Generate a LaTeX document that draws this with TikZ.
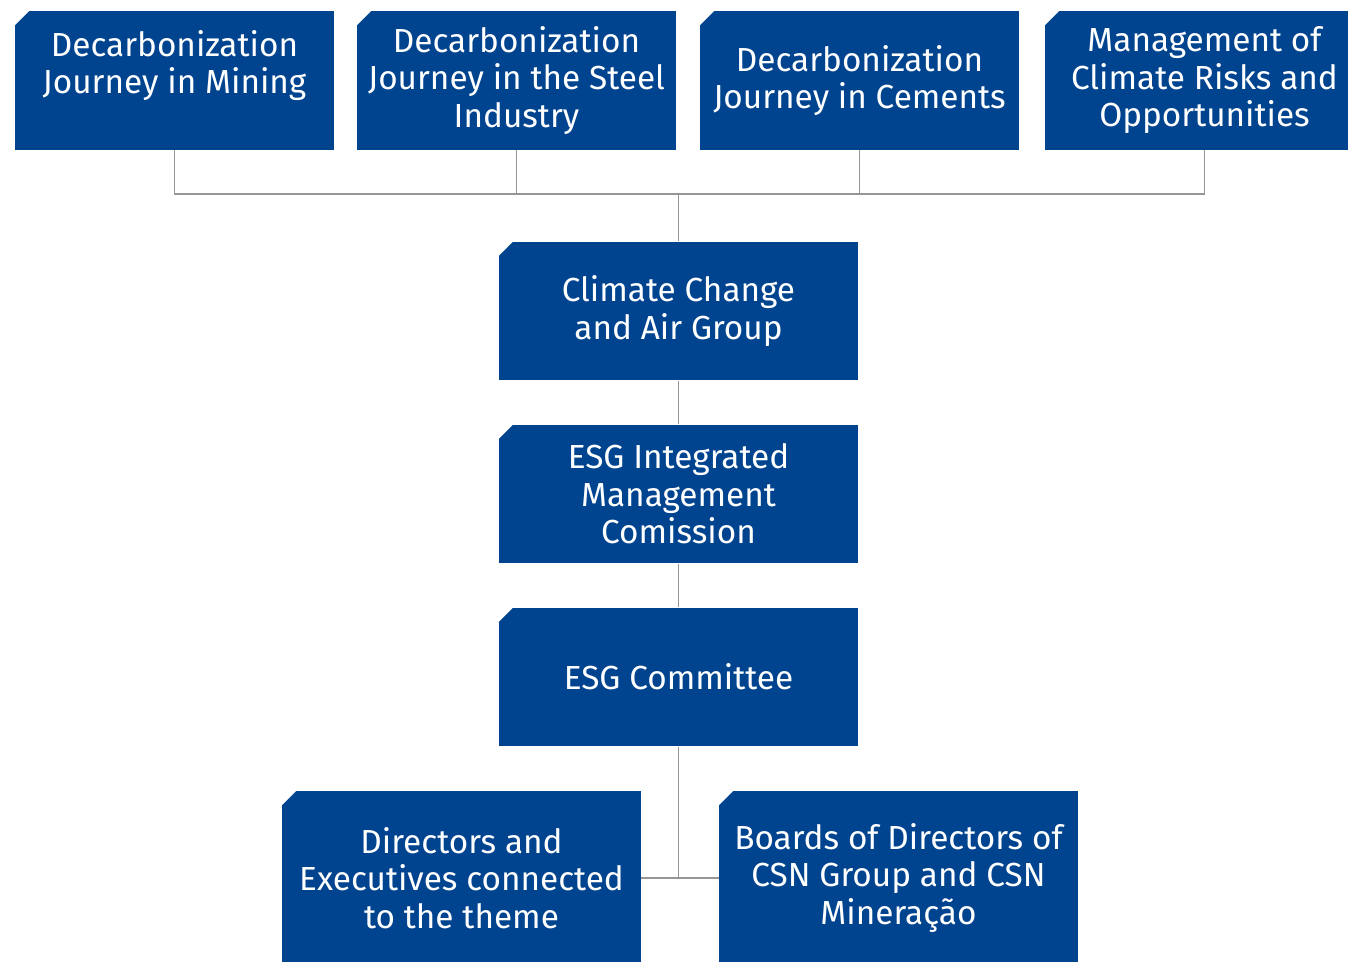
\documentclass[tikz,border=0pt]{standalone}
\usepackage{fontspec}
\setmainfont{Fira Sans}
\usetikzlibrary{positioning}
\definecolor{CSNBlue}{RGB}{0, 68, 143}
\definecolor{CSNLine}{RGB}{150, 150, 150}

\tikzset{
  unitbox/.style={rectangle, fill=CSNBlue, text=white, align=center, inner sep=0pt,
    font=\fontsize{25}{28.1}\selectfont,
    path picture={\fill[white] (path picture bounding box.north west) -- ++(10.5pt,0) -- ++(-10.5pt,-10.5pt) -- cycle;}},
  topbox/.style={unitbox, minimum width=239.25pt, minimum height=104pt},
  midbox/.style={unitbox, minimum width=269.25pt, minimum height=104pt},
  lowbox/.style={unitbox, minimum width=269.25pt, minimum height=130.5pt},
  link/.style={draw=CSNLine, line width=1.1pt},
}

\begin{document}
\begin{tikzpicture}[x=0.75pt,y=-0.75pt]
  \path[use as bounding box] (0,0) rectangle (1348,962);
  \clip (0,0) rectangle (1348,962);

  % working groups
  \node[topbox] (mining) at (174.5,80.5) {Decarbonization\\Journey in Mining\\~};
  \node[topbox] (steel)  at (516.5,80.5) {Decarbonization\\Journey in the Steel\\Industry};
  \node[topbox] (cement) at (859.5,80.5) {Decarbonization\\Journey in Cements};
  \node[topbox] (risk)   at (1204.5,80.5) {Management of\\Climate Risks and\\Opportunities};

  % governance chain
  \node[midbox] (climate)   at (678.5,311) {Climate Change\\and Air Group};
  \node[midbox] (esgint)    at (678.5,494) {ESG Integrated\\Management\\Comission};
  \node[midbox] (committee) at (678.5,677) {ESG Committee};

  % boards
  \node[lowbox] (directors) at (461.5,878) {Directors and\\Executives connected\\to the theme};
  \node[lowbox] (boards)    at (898.5,878) {Boards of Directors of\\CSN Group and CSN\\Mineração};

  % connectors
  \coordinate (bus) at (678.5,194);
  \coordinate (join) at (678.5,878);
  \foreach \g in {mining,steel,cement,risk}
    \draw[link] (\g.south) |- (bus);
  \draw[link] (bus) -- (climate.north);
  \draw[link] (climate.south) -- (esgint.north);
  \draw[link] (esgint.south) -- (committee.north);
  \draw[link] (committee.south) -- (join);
  \draw[link] (directors.east) -- (boards.west);
\end{tikzpicture}
\end{document}
